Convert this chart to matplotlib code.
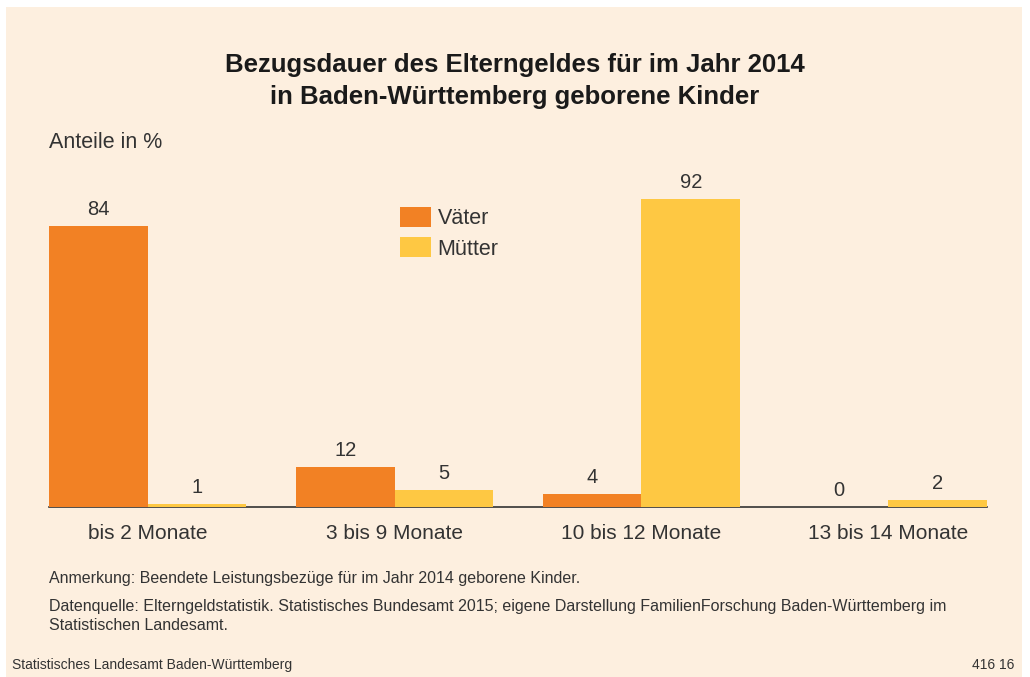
import matplotlib
matplotlib.use("Agg")
import matplotlib.pyplot as plt
import matplotlib.patches as mpatches
import numpy as np

#---DATA---
categories = ["bis 2 Monate", "3 bis 9 Monate", "10 bis 12 Monate", "13 bis 14 Monate"]
vaeter = [84, 12, 4, 0]
muetter = [1, 5, 92, 2]

colors = {'orange': '#F28124', 'yellow': '#FEC843', 'bg': '#FDEFDF', 'text': '#333333'}

plt.rcParams['font.family'] = ['Liberation Sans', 'DejaVu Sans']

fig = plt.figure(figsize=(10.30, 6.77), dpi=100)
fig.patch.set_facecolor('white')
#beige panel
fig.patches.append(mpatches.Rectangle((6/1030, 0), 1016/1030, 670/677, transform=fig.transFigure,
                                      facecolor=colors['bg'], edgecolor='none', zorder=-10))

ax = fig.add_axes([49/1030, 170/677, 938/1030, 335/677])
ax.set_facecolor('none')
ax.set_zorder(5)

x = np.arange(len(categories))
w = 0.4
bars1 = ax.bar(x - w/2, vaeter, w, color=colors['orange'], label='Väter', zorder=3)
bars2 = ax.bar(x + w/2, muetter, w, color=colors['yellow'], label='Mütter', zorder=3)

ax.set_xlim(-0.4, 3.4)
ax.set_ylim(0, 100)

#frame
for s in ['top', 'right', 'left']:
    ax.spines[s].set_visible(False)
ax.spines['bottom'].set_color('#333333')
ax.spines['bottom'].set_linewidth(1.2)
ax.set_yticks([])
ax.set_xticks(x)
ax.set_xticklabels(categories, fontsize=15, color=colors['text'])
ax.tick_params('x', length=0, pad=12)

#bar labels
ax.bar_label(bars1, labels=[str(v) for v in vaeter], padding=5, fontsize=14.5, color=colors['text'])
ax.bar_label(bars2, labels=[str(v) for v in muetter], padding=5, fontsize=14.5, color=colors['text'])

#legend
ax.legend(loc='upper left', bbox_to_anchor=(0.374, 0.8955), frameon=False, fontsize=15.5,
          borderpad=0, borderaxespad=0,
          handlelength=1.45, handleheight=1.05, handletextpad=0.3, labelspacing=0.37,
          labelcolor=colors['text'])

#---TEXT---
fig.text(0.5, 1 - 65/677, 'Bezugsdauer des Elterngeldes für im Jahr 2014', ha='center', va='center',
         fontsize=18.5, fontweight='bold', color='#1a1a1a')
fig.text(0.5, 1 - 97/677, 'in Baden-Württemberg geborene Kinder', ha='center', va='center',
         fontsize=18.5, fontweight='bold', color='#1a1a1a')
fig.text(49/1030, 1 - 143/677, 'Anteile in %', ha='left', va='center', fontsize=15.5, color=colors['text'])

note_family = ['Liberation Sans Narrow', 'Liberation Sans', 'DejaVu Sans']
fig.text(49/1030, 1 - 578/677, 'Anmerkung: Beendete Leistungsbezüge für im Jahr 2014 geborene Kinder.',
         ha='left', va='center', fontsize=11.5, color=colors['text'], family=note_family)
fig.text(49/1030, 1 - 606/677, 'Datenquelle: Elterngeldstatistik. Statistisches Bundesamt 2015; eigene Darstellung '
         'FamilienForschung Baden-Württemberg im', ha='left', va='center', fontsize=11.5,
         color=colors['text'], family=note_family)
fig.text(49/1030, 1 - 626/677, 'Statistischen Landesamt.', ha='left', va='center', fontsize=11.5,
         color=colors['text'], family=note_family)
fig.text(12/1030, 1 - 665/677, 'Statistisches Landesamt Baden-Württemberg', ha='left', va='center',
         fontsize=10, color=colors['text'], family=note_family)
fig.text(1014/1030, 1 - 665/677, '416 16', ha='right', va='center',
         fontsize=10, color=colors['text'], family=note_family)

plt.savefig('out.png', dpi=100, facecolor=fig.get_facecolor())
